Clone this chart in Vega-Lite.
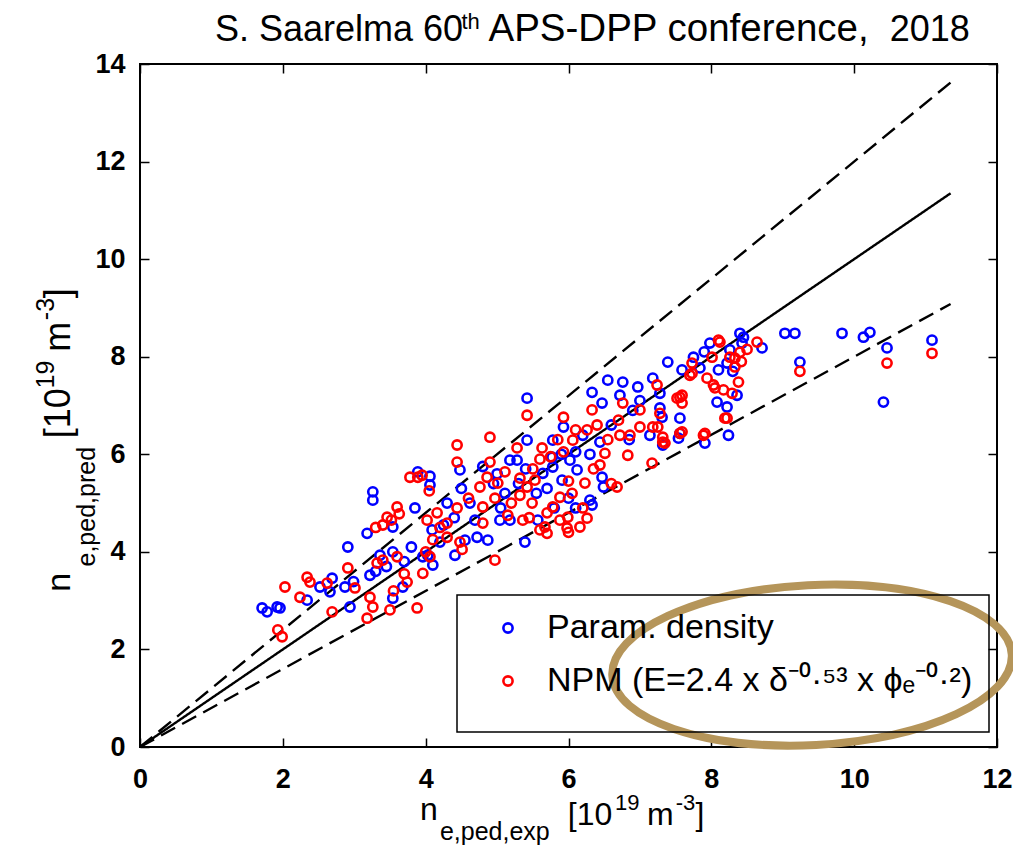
{
  "$schema": "https://vega.github.io/schema/vega-lite/v6.json",
  "width": 857,
  "height": 683,
  "autosize": {"type": "none"},
  "padding": {"left": 140, "top": 64, "right": 16, "bottom": 105},
  "background": "white",
  "resolve": {"axis": {"x": "independent", "y": "independent"}},
  "layer": [
    {
      "data": {"values": [
        {"x": 0, "y": 0, "ratio": "1.0"}, {"x": 11.35, "y": 11.35, "ratio": "1.0"},
        {"x": 0, "y": 0, "ratio": "1.2"}, {"x": 11.35, "y": 13.62, "ratio": "1.2"},
        {"x": 0, "y": 0, "ratio": "0.8"}, {"x": 11.35, "y": 9.08, "ratio": "0.8"}
      ]},
      "mark": {"type": "line", "color": "black", "strokeWidth": 2.4},
      "encoding": {
        "x": {"field": "x", "type": "quantitative", "scale": {"domain": [0, 12], "nice": false}, "title": null,
              "axis": {"orient": "bottom", "values": [0, 2, 4, 6, 8, 10, 12], "labelPadding": 28}},
        "y": {"field": "y", "type": "quantitative", "scale": {"domain": [0, 14], "nice": false}, "title": null,
              "axis": {"orient": "left", "values": [0, 2, 4, 6, 8, 10, 12, 14], "labelPadding": 24}},
        "detail": {"field": "ratio"},
        "strokeDash": {"field": "ratio", "type": "nominal", "scale": {"domain": ["1.0", "1.2", "0.8"], "range": [[1, 0], [16, 8], [16, 8]]}, "legend": null}
      }
    },
    {
      "data": {"values": [
        {"x":1.71,"y":2.85,"model":"Param. density"},{"x":1.78,"y":2.77,"model":"Param. density"},{"x":1.92,"y":2.87,"model":"Param. density"},{"x":1.96,"y":2.85,"model":"Param. density"},
        {"x":2.34,"y":3.01,"model":"Param. density"},{"x":2.52,"y":3.28,"model":"Param. density"},{"x":2.69,"y":3.46,"model":"Param. density"},{"x":2.66,"y":3.18,"model":"Param. density"},{"x":2.87,"y":3.28,"model":"Param. density"},{"x":2.94,"y":2.87,"model":"Param. density"},{"x":2.99,"y":3.39,"model":"Param. density"},{"x":3.22,"y":3.52,"model":"Param. density"},{"x":3.36,"y":3.93,"model":"Param. density"},{"x":3.54,"y":4.0,"model":"Param. density"},{"x":3.54,"y":3.05,"model":"Param. density"},{"x":3.68,"y":3.28,"model":"Param. density"},{"x":3.96,"y":3.9,"model":"Param. density"},{"x":4.1,"y":3.73,"model":"Param. density"},
        {"x":2.91,"y":4.1,"model":"Param. density"},{"x":3.18,"y":4.38,"model":"Param. density"},{"x":3.54,"y":4.51,"model":"Param. density"},{"x":3.85,"y":4.9,"model":"Param. density"},{"x":3.26,"y":5.23,"model":"Param. density"},{"x":3.26,"y":5.06,"model":"Param. density"},{"x":3.89,"y":5.64,"model":"Param. density"},{"x":4.06,"y":5.55,"model":"Param. density"},{"x":4.06,"y":5.37,"model":"Param. density"},
        {"x":4.48,"y":5.68,"model":"Param. density"},{"x":4.09,"y":4.45,"model":"Param. density"},{"x":4.03,"y":3.93,"model":"Param. density"},{"x":4.55,"y":4.24,"model":"Param. density"},{"x":4.41,"y":3.93,"model":"Param. density"},{"x":4.87,"y":4.24,"model":"Param. density"},{"x":4.72,"y":4.3,"model":"Param. density"},{"x":4.69,"y":4.65,"model":"Param. density"},{"x":4.62,"y":5.0,"model":"Param. density"},{"x":5.04,"y":4.65,"model":"Param. density"},{"x":5.18,"y":4.65,"model":"Param. density"},{"x":5.39,"y":4.2,"model":"Param. density"},{"x":5.57,"y":4.65,"model":"Param. density"},{"x":5.11,"y":5.2,"model":"Param. density"},{"x":5.18,"y":5.88,"model":"Param. density"},{"x":5.28,"y":5.88,"model":"Param. density"},{"x":5.42,"y":6.29,"model":"Param. density"},{"x":5.78,"y":6.29,"model":"Param. density"},{"x":5.77,"y":5.94,"model":"Param. density"},{"x":5.64,"y":5.61,"model":"Param. density"},{"x":5.78,"y":5.74,"model":"Param. density"},{"x":5.91,"y":5.47,"model":"Param. density"},{"x":6.12,"y":5.68,"model":"Param. density"},{"x":6.02,"y":5.88,"model":"Param. density"},{"x":5.93,"y":6.56,"model":"Param. density"},{"x":6.2,"y":6.39,"model":"Param. density"},{"x":6.44,"y":6.25,"model":"Param. density"},{"x":6.47,"y":5.53,"model":"Param. density"},{"x":6.33,"y":4.96,"model":"Param. density"},{"x":6.3,"y":5.06,"model":"Param. density"},{"x":6.49,"y":5.33,"model":"Param. density"},
        {"x":5.42,"y":7.15,"model":"Param. density"},{"x":6.33,"y":7.27,"model":"Param. density"},{"x":6.55,"y":7.52,"model":"Param. density"},{"x":6.76,"y":7.48,"model":"Param. density"},{"x":6.47,"y":7.05,"model":"Param. density"},{"x":6.72,"y":7.21,"model":"Param. density"},{"x":6.97,"y":7.38,"model":"Param. density"},{"x":7.18,"y":7.56,"model":"Param. density"},{"x":7.28,"y":7.25,"model":"Param. density"},{"x":7.28,"y":6.95,"model":"Param. density"},{"x":7.31,"y":6.76,"model":"Param. density"},{"x":7.56,"y":6.74,"model":"Param. density"},{"x":7.56,"y":6.43,"model":"Param. density"},{"x":7.14,"y":6.39,"model":"Param. density"},{"x":7.32,"y":6.19,"model":"Param. density"},{"x":7.54,"y":6.33,"model":"Param. density"},{"x":7.91,"y":6.23,"model":"Param. density"},{"x":8.24,"y":6.39,"model":"Param. density"},{"x":8.22,"y":6.97,"model":"Param. density"},{"x":8.08,"y":7.07,"model":"Param. density"},{"x":8.36,"y":7.21,"model":"Param. density"},{"x":8.1,"y":7.73,"model":"Param. density"},{"x":8.22,"y":7.87,"model":"Param. density"},{"x":7.59,"y":7.73,"model":"Param. density"},{"x":7.84,"y":7.77,"model":"Param. density"},{"x":7.75,"y":7.99,"model":"Param. density"},{"x":7.39,"y":7.89,"model":"Param. density"},{"x":7.98,"y":8.28,"model":"Param. density"},{"x":8.26,"y":8.14,"model":"Param. density"},{"x":8.43,"y":8.28,"model":"Param. density"},{"x":8.4,"y":8.48,"model":"Param. density"},{"x":8.71,"y":8.18,"model":"Param. density"},{"x":9.03,"y":8.48,"model":"Param. density"},{"x":9.17,"y":8.48,"model":"Param. density"},{"x":9.83,"y":8.48,"model":"Param. density"},{"x":10.13,"y":8.4,"model":"Param. density"},{"x":10.22,"y":8.5,"model":"Param. density"},{"x":10.46,"y":8.18,"model":"Param. density"},{"x":10.41,"y":7.07,"model":"Param. density"},{"x":11.09,"y":8.34,"model":"Param. density"},{"x":9.24,"y":7.89,"model":"Param. density"},
        {"x":5.3,"y":5.4,"model":"Param. density"},{"x":5.55,"y":5.2,"model":"Param. density"},{"x":5.0,"y":5.6,"model":"Param. density"},{"x":4.8,"y":5.75,"model":"Param. density"},{"x":6.0,"y":5.1,"model":"Param. density"},{"x":6.1,"y":4.9,"model":"Param. density"},{"x":5.8,"y":4.9,"model":"Param. density"},{"x":6.3,"y":6.0,"model":"Param. density"},{"x":6.6,"y":6.6,"model":"Param. density"},{"x":6.9,"y":6.9,"model":"Param. density"},{"x":7.0,"y":7.1,"model":"Param. density"},{"x":6.85,"y":6.3,"model":"Param. density"},{"x":4.4,"y":4.7,"model":"Param. density"},{"x":4.3,"y":5.0,"model":"Param. density"},{"x":3.3,"y":3.6,"model":"Param. density"},{"x":3.7,"y":3.8,"model":"Param. density"},{"x":3.8,"y":4.1,"model":"Param. density"},{"x":4.2,"y":4.2,"model":"Param. density"},{"x":4.5,"y":5.3,"model":"Param. density"},{"x":5.9,"y":6.0,"model":"Param. density"},{"x":6.1,"y":6.05,"model":"Param. density"},{"x":5.7,"y":5.3,"model":"Param. density"},{"x":5.4,"y":5.7,"model":"Param. density"},{"x":7.9,"y":8.1,"model":"Param. density"},{"x":8.45,"y":8.4,"model":"Param. density"},{"x":8.3,"y":7.7,"model":"Param. density"},{"x":4.95,"y":5.4,"model":"Param. density"},{"x":5.05,"y":4.9,"model":"Param. density"},{"x":4.25,"y":4.55,"model":"Param. density"},{"x":3.45,"y":3.7,"model":"Param. density"},
        {"x":1.93,"y":2.4,"model":"NPM"},{"x":1.99,"y":2.26,"model":"NPM"},{"x":2.03,"y":3.28,"model":"NPM"},{"x":2.24,"y":3.07,"model":"NPM"},{"x":2.38,"y":3.38,"model":"NPM"},{"x":2.34,"y":3.48,"model":"NPM"},{"x":2.62,"y":3.36,"model":"NPM"},{"x":2.69,"y":2.77,"model":"NPM"},{"x":2.91,"y":3.67,"model":"NPM"},{"x":3.01,"y":3.26,"model":"NPM"},{"x":3.32,"y":3.77,"model":"NPM"},{"x":3.4,"y":3.83,"model":"NPM"},{"x":3.22,"y":3.07,"model":"NPM"},{"x":3.26,"y":2.87,"model":"NPM"},{"x":3.18,"y":2.64,"model":"NPM"},{"x":3.5,"y":2.81,"model":"NPM"},{"x":3.74,"y":3.38,"model":"NPM"},{"x":3.88,"y":2.85,"model":"NPM"},{"x":3.96,"y":3.56,"model":"NPM"},{"x":4.06,"y":3.9,"model":"NPM"},
        {"x":3.78,"y":5.53,"model":"NPM"},{"x":3.89,"y":5.53,"model":"NPM"},{"x":3.6,"y":4.92,"model":"NPM"},{"x":3.46,"y":4.71,"model":"NPM"},{"x":3.52,"y":4.65,"model":"NPM"},{"x":3.63,"y":4.78,"model":"NPM"},{"x":4.02,"y":4.65,"model":"NPM"},{"x":3.95,"y":5.57,"model":"NPM"},{"x":4.16,"y":4.8,"model":"NPM"},{"x":4.3,"y":4.59,"model":"NPM"},{"x":4.44,"y":4.9,"model":"NPM"},{"x":4.48,"y":4.2,"model":"NPM"},{"x":4.51,"y":4.05,"model":"NPM"},{"x":4.8,"y":4.59,"model":"NPM"},{"x":4.8,"y":4.92,"model":"NPM"},{"x":4.76,"y":5.33,"model":"NPM"},{"x":4.86,"y":5.53,"model":"NPM"},{"x":5.01,"y":5.41,"model":"NPM"},{"x":5.11,"y":5.64,"model":"NPM"},{"x":4.97,"y":5.1,"model":"NPM"},{"x":5.32,"y":5.16,"model":"NPM"},{"x":5.32,"y":5.51,"model":"NPM"},{"x":5.42,"y":5.33,"model":"NPM"},{"x":5.53,"y":5.47,"model":"NPM"},{"x":5.49,"y":5.0,"model":"NPM"},{"x":5.36,"y":4.65,"model":"NPM"},{"x":4.97,"y":3.83,"model":"NPM"},
        {"x":4.44,"y":6.19,"model":"NPM"},{"x":4.44,"y":5.84,"model":"NPM"},{"x":4.9,"y":6.35,"model":"NPM"},{"x":4.9,"y":5.84,"model":"NPM"},{"x":5.28,"y":6.13,"model":"NPM"},{"x":5.63,"y":6.13,"model":"NPM"},{"x":5.93,"y":6.05,"model":"NPM"},{"x":6.06,"y":6.29,"model":"NPM"},{"x":6.26,"y":6.5,"model":"NPM"},{"x":6.51,"y":6.02,"model":"NPM"},{"x":6.44,"y":5.78,"model":"NPM"},{"x":6.23,"y":5.41,"model":"NPM"},{"x":6.05,"y":5.2,"model":"NPM"},{"x":5.88,"y":5.12,"model":"NPM"},{"x":5.78,"y":4.92,"model":"NPM"},{"x":5.7,"y":4.8,"model":"NPM"},{"x":5.67,"y":4.51,"model":"NPM"},{"x":5.88,"y":4.65,"model":"NPM"},{"x":5.98,"y":4.49,"model":"NPM"},{"x":6.16,"y":4.51,"model":"NPM"},{"x":6.26,"y":4.69,"model":"NPM"},{"x":5.99,"y":4.71,"model":"NPM"},{"x":5.7,"y":4.38,"model":"NPM"},{"x":6.2,"y":4.9,"model":"NPM"},
        {"x":5.42,"y":6.8,"model":"NPM"},{"x":5.93,"y":6.76,"model":"NPM"},{"x":6.33,"y":6.91,"model":"NPM"},{"x":6.76,"y":7.05,"model":"NPM"},{"x":7.24,"y":7.42,"model":"NPM"},{"x":7.0,"y":6.91,"model":"NPM"},{"x":7.52,"y":7.15,"model":"NPM"},{"x":7.59,"y":7.21,"model":"NPM"},{"x":7.25,"y":6.56,"model":"NPM"},{"x":7.32,"y":6.35,"model":"NPM"},{"x":7.35,"y":6.23,"model":"NPM"},{"x":7.59,"y":6.46,"model":"NPM"},{"x":7.0,"y":6.56,"model":"NPM"},{"x":6.86,"y":6.39,"model":"NPM"},{"x":6.72,"y":6.39,"model":"NPM"},{"x":6.83,"y":5.98,"model":"NPM"},{"x":7.91,"y":6.43,"model":"NPM"},{"x":8.19,"y":6.74,"model":"NPM"},{"x":7.17,"y":5.82,"model":"NPM"},{"x":6.68,"y":5.33,"model":"NPM"},
        {"x":8.1,"y":8.34,"model":"NPM"},{"x":8.26,"y":7.99,"model":"NPM"},{"x":8.01,"y":7.99,"model":"NPM"},{"x":8.33,"y":7.79,"model":"NPM"},{"x":7.94,"y":7.56,"model":"NPM"},{"x":7.73,"y":7.66,"model":"NPM"},{"x":8.03,"y":7.42,"model":"NPM"},{"x":8.17,"y":7.32,"model":"NPM"},{"x":8.29,"y":7.25,"model":"NPM"},{"x":8.12,"y":8.3,"model":"NPM"},{"x":8.64,"y":8.3,"model":"NPM"},{"x":8.4,"y":8.09,"model":"NPM"},{"x":8.33,"y":7.97,"model":"NPM"},{"x":8.38,"y":7.48,"model":"NPM"},{"x":8.05,"y":7.36,"model":"NPM"},{"x":8.22,"y":6.74,"model":"NPM"},{"x":7.73,"y":7.87,"model":"NPM"},{"x":7.7,"y":7.62,"model":"NPM"},{"x":7.56,"y":7.17,"model":"NPM"},{"x":7.59,"y":7.05,"model":"NPM"},{"x":7.28,"y":6.84,"model":"NPM"},{"x":7.18,"y":6.56,"model":"NPM"},{"x":7.32,"y":6.25,"model":"NPM"},{"x":7.56,"y":6.43,"model":"NPM"},{"x":7.89,"y":6.39,"model":"NPM"},{"x":10.46,"y":7.87,"model":"NPM"},{"x":11.09,"y":8.07,"model":"NPM"},{"x":9.24,"y":7.7,"model":"NPM"},
        {"x":6.1,"y":6.5,"model":"NPM"},{"x":5.6,"y":5.9,"model":"NPM"},{"x":5.2,"y":5.0,"model":"NPM"},{"x":5.5,"y":5.7,"model":"NPM"},{"x":4.6,"y":5.1,"model":"NPM"},{"x":4.2,"y":4.5,"model":"NPM"},{"x":4.3,"y":4.3,"model":"NPM"},{"x":4.0,"y":4.0,"model":"NPM"},{"x":4.1,"y":4.25,"model":"NPM"},{"x":5.15,"y":4.75,"model":"NPM"},{"x":5.45,"y":4.7,"model":"NPM"},{"x":6.0,"y":5.45,"model":"NPM"},{"x":6.35,"y":5.7,"model":"NPM"},{"x":6.55,"y":6.3,"model":"NPM"},{"x":6.4,"y":6.6,"model":"NPM"},{"x":6.7,"y":6.7,"model":"NPM"},{"x":5.75,"y":5.95,"model":"NPM"},{"x":5.85,"y":6.3,"model":"NPM"},{"x":3.55,"y":3.2,"model":"NPM"},{"x":3.7,"y":3.55,"model":"NPM"},{"x":3.6,"y":3.9,"model":"NPM"},{"x":3.3,"y":4.5,"model":"NPM"},{"x":4.05,"y":5.25,"model":"NPM"},{"x":3.4,"y":4.55,"model":"NPM"},{"x":6.6,"y":5.4,"model":"NPM"},{"x":6.0,"y":4.4,"model":"NPM"},{"x":5.6,"y":4.45,"model":"NPM"},{"x":8.5,"y":8.15,"model":"NPM"},{"x":8.42,"y":7.9,"model":"NPM"}
      ]},
      "mark": {"type": "point", "filled": false, "size": 85, "strokeWidth": 2.6, "opacity": 1},
      "encoding": {
        "x": {"field": "x", "type": "quantitative", "scale": {"domain": [0, 12], "nice": false}, "axis": null},
        "y": {"field": "y", "type": "quantitative", "scale": {"domain": [0, 14], "nice": false}, "axis": null},
        "color": {"field": "model", "type": "nominal",
          "scale": {"domain": ["Param. density", "NPM"], "range": ["#0000ff", "#ff0000"]},
          "legend": {"orient": "none", "legendX": 317, "legendY": 531, "title": " ", "titleOrient": "bottom", "titleFontSize": 10, "titlePadding": 8,
            "strokeColor": "black", "padding": 16, "symbolOffset": 18, "labelOffset": 22, "rowPadding": 19,
            "symbolType": "circle", "symbolSize": 85, "symbolStrokeWidth": 2.6,
            "labelFont": "Liberation Sans", "labelFontSize": 34, "labelColor": "black", "labelLimit": 700,
            "labelExpr": "datum.label == 'NPM' ? 'NPM (E=2.4 x δ⁻⁰·⁵³ x ϕₑ⁻⁰·²)' : datum.label"}
        }
      }
    },
    {
      "data": {"values": [{}]},
      "mark": {"type": "point", "shape": "M -1 0 A 1 0.4 0 1 1 1 0 A 1 0.4 0 1 1 -1 0 Z", "size": 160000, "filled": false, "color": "#b5955a", "strokeWidth": 8, "angle": -3, "opacity": 1},
      "encoding": {
        "x": {"datum": 9.41, "type": "quantitative", "scale": {"domain": [0, 12], "nice": false}, "title": null,
              "axis": {"orient": "top", "values": [0, 2, 4, 6, 8, 10, 12], "labels": false}},
        "y": {"datum": 1.68, "type": "quantitative", "scale": {"domain": [0, 14], "nice": false}, "title": null,
              "axis": {"orient": "right", "values": [0, 2, 4, 6, 8, 10, 12, 14], "labels": false}}
      }
    },
    {"data": {"values": [{}]},
     "mark": {"type": "text", "text": "S. Saarelma 60", "align": "left", "baseline": "alphabetic", "fontSize": 36, "font": "Liberation Sans", "color": "black"},
     "encoding": {"x": {"datum": 1.05, "type": "quantitative", "scale": {"domain": [0, 12], "nice": false}, "axis": null},
                  "y": {"datum": 14.47, "type": "quantitative", "scale": {"domain": [0, 14], "nice": false}, "axis": null}}},
    {"data": {"values": [{}]},
     "mark": {"type": "text", "text": "th", "align": "left", "baseline": "alphabetic", "fontSize": 22, "font": "Liberation Sans", "color": "black"},
     "encoding": {"x": {"datum": 4.5, "type": "quantitative", "scale": {"domain": [0, 12], "nice": false}, "axis": null},
                  "y": {"datum": 14.71, "type": "quantitative", "scale": {"domain": [0, 14], "nice": false}, "axis": null}}},
    {"data": {"values": [{}]},
     "mark": {"type": "text", "text": "APS-DPP conference,", "align": "left", "baseline": "alphabetic", "fontSize": 38.5, "font": "Liberation Sans", "color": "black"},
     "encoding": {"x": {"datum": 4.88, "type": "quantitative", "scale": {"domain": [0, 12], "nice": false}, "axis": null},
                  "y": {"datum": 14.47, "type": "quantitative", "scale": {"domain": [0, 14], "nice": false}, "axis": null}}},
    {"data": {"values": [{}]},
     "mark": {"type": "text", "text": "2018", "align": "right", "baseline": "alphabetic", "fontSize": 36, "font": "Liberation Sans", "color": "black"},
     "encoding": {"x": {"datum": 11.62, "type": "quantitative", "scale": {"domain": [0, 12], "nice": false}, "axis": null},
                  "y": {"datum": 14.47, "type": "quantitative", "scale": {"domain": [0, 14], "nice": false}, "axis": null}}},
    {"data": {"values": [{}]},
     "mark": {"type": "text", "text": "n", "align": "left", "baseline": "alphabetic", "fontSize": 32, "font": "Liberation Sans", "color": "black"},
     "encoding": {"x": {"datum": 3.92, "type": "quantitative", "scale": {"domain": [0, 12], "nice": false}, "axis": null},
                  "y": {"datum": -1.5, "type": "quantitative", "scale": {"domain": [0, 14], "nice": false}, "axis": null}}},
    {"data": {"values": [{}]},
     "mark": {"type": "text", "text": "e,ped,exp", "align": "left", "baseline": "alphabetic", "fontSize": 25, "font": "Liberation Sans", "color": "black"},
     "encoding": {"x": {"datum": 4.2, "type": "quantitative", "scale": {"domain": [0, 12], "nice": false}, "axis": null},
                  "y": {"datum": -1.9, "type": "quantitative", "scale": {"domain": [0, 14], "nice": false}, "axis": null}}},
    {"data": {"values": [{}]},
     "mark": {"type": "text", "text": "[10", "align": "left", "baseline": "alphabetic", "fontSize": 32, "font": "Liberation Sans", "color": "black"},
     "encoding": {"x": {"datum": 5.99, "type": "quantitative", "scale": {"domain": [0, 12], "nice": false}, "axis": null},
                  "y": {"datum": -1.6, "type": "quantitative", "scale": {"domain": [0, 14], "nice": false}, "axis": null}}},
    {"data": {"values": [{}]},
     "mark": {"type": "text", "text": "19", "align": "left", "baseline": "alphabetic", "fontSize": 22, "font": "Liberation Sans", "color": "black"},
     "encoding": {"x": {"datum": 6.65, "type": "quantitative", "scale": {"domain": [0, 12], "nice": false}, "axis": null},
                  "y": {"datum": -1.3, "type": "quantitative", "scale": {"domain": [0, 14], "nice": false}, "axis": null}}},
    {"data": {"values": [{}]},
     "mark": {"type": "text", "text": "m", "align": "left", "baseline": "alphabetic", "fontSize": 32, "font": "Liberation Sans", "color": "black"},
     "encoding": {"x": {"datum": 7.1, "type": "quantitative", "scale": {"domain": [0, 12], "nice": false}, "axis": null},
                  "y": {"datum": -1.6, "type": "quantitative", "scale": {"domain": [0, 14], "nice": false}, "axis": null}}},
    {"data": {"values": [{}]},
     "mark": {"type": "text", "text": "-3", "align": "left", "baseline": "alphabetic", "fontSize": 22, "font": "Liberation Sans", "color": "black"},
     "encoding": {"x": {"datum": 7.5, "type": "quantitative", "scale": {"domain": [0, 12], "nice": false}, "axis": null},
                  "y": {"datum": -1.3, "type": "quantitative", "scale": {"domain": [0, 14], "nice": false}, "axis": null}}},
    {"data": {"values": [{}]},
     "mark": {"type": "text", "text": "]", "align": "left", "baseline": "alphabetic", "fontSize": 32, "font": "Liberation Sans", "color": "black"},
     "encoding": {"x": {"datum": 7.78, "type": "quantitative", "scale": {"domain": [0, 12], "nice": false}, "axis": null},
                  "y": {"datum": -1.6, "type": "quantitative", "scale": {"domain": [0, 14], "nice": false}, "axis": null}}},
    {"data": {"values": [{}]},
     "mark": {"type": "text", "text": "n", "align": "left", "baseline": "alphabetic", "angle": 270, "fontSize": 34, "font": "Liberation Sans", "color": "black"},
     "encoding": {"x": {"datum": -0.98, "type": "quantitative", "scale": {"domain": [0, 12], "nice": false}, "axis": null},
                  "y": {"datum": 3.18, "type": "quantitative", "scale": {"domain": [0, 14], "nice": false}, "axis": null}}},
    {"data": {"values": [{}]},
     "mark": {"type": "text", "text": "e,ped,pred", "align": "left", "baseline": "alphabetic", "angle": 270, "fontSize": 25, "font": "Liberation Sans", "color": "black"},
     "encoding": {"x": {"datum": -0.63, "type": "quantitative", "scale": {"domain": [0, 12], "nice": false}, "axis": null},
                  "y": {"datum": 3.7, "type": "quantitative", "scale": {"domain": [0, 14], "nice": false}, "axis": null}}},
    {"data": {"values": [{}]},
     "mark": {"type": "text", "text": "[10", "align": "left", "baseline": "alphabetic", "angle": 270, "fontSize": 36, "font": "Liberation Sans", "color": "black"},
     "encoding": {"x": {"datum": -0.98, "type": "quantitative", "scale": {"domain": [0, 12], "nice": false}, "axis": null},
                  "y": {"datum": 6.33, "type": "quantitative", "scale": {"domain": [0, 14], "nice": false}, "axis": null}}},
    {"data": {"values": [{}]},
     "mark": {"type": "text", "text": "19", "align": "left", "baseline": "alphabetic", "angle": 270, "fontSize": 25, "font": "Liberation Sans", "color": "black"},
     "encoding": {"x": {"datum": -1.2, "type": "quantitative", "scale": {"domain": [0, 12], "nice": false}, "axis": null},
                  "y": {"datum": 7.35, "type": "quantitative", "scale": {"domain": [0, 14], "nice": false}, "axis": null}}},
    {"data": {"values": [{}]},
     "mark": {"type": "text", "text": "m", "align": "left", "baseline": "alphabetic", "angle": 270, "fontSize": 36, "font": "Liberation Sans", "color": "black"},
     "encoding": {"x": {"datum": -0.98, "type": "quantitative", "scale": {"domain": [0, 12], "nice": false}, "axis": null},
                  "y": {"datum": 8.1, "type": "quantitative", "scale": {"domain": [0, 14], "nice": false}, "axis": null}}},
    {"data": {"values": [{}]},
     "mark": {"type": "text", "text": "-3", "align": "left", "baseline": "alphabetic", "angle": 270, "fontSize": 25, "font": "Liberation Sans", "color": "black"},
     "encoding": {"x": {"datum": -1.2, "type": "quantitative", "scale": {"domain": [0, 12], "nice": false}, "axis": null},
                  "y": {"datum": 8.75, "type": "quantitative", "scale": {"domain": [0, 14], "nice": false}, "axis": null}}},
    {"data": {"values": [{}]},
     "mark": {"type": "text", "text": "]", "align": "left", "baseline": "alphabetic", "angle": 270, "fontSize": 36, "font": "Liberation Sans", "color": "black"},
     "encoding": {"x": {"datum": -0.98, "type": "quantitative", "scale": {"domain": [0, 12], "nice": false}, "axis": null},
                  "y": {"datum": 9.2, "type": "quantitative", "scale": {"domain": [0, 14], "nice": false}, "axis": null}}}
  ],
  "config": {
    "view": {"stroke": "black", "strokeWidth": 2},
    "axis": {"domain": false, "grid": false, "ticks": true, "tickColor": "black", "tickWidth": 1.5, "tickSize": -9,
             "labelFont": "Liberation Sans", "labelFontSize": 27, "labelFontWeight": "bold", "labelColor": "black",
             "labelFlush": false, "labelOverlap": false},
    "legend": {"strokeWidth": 1.5}
  }
}
